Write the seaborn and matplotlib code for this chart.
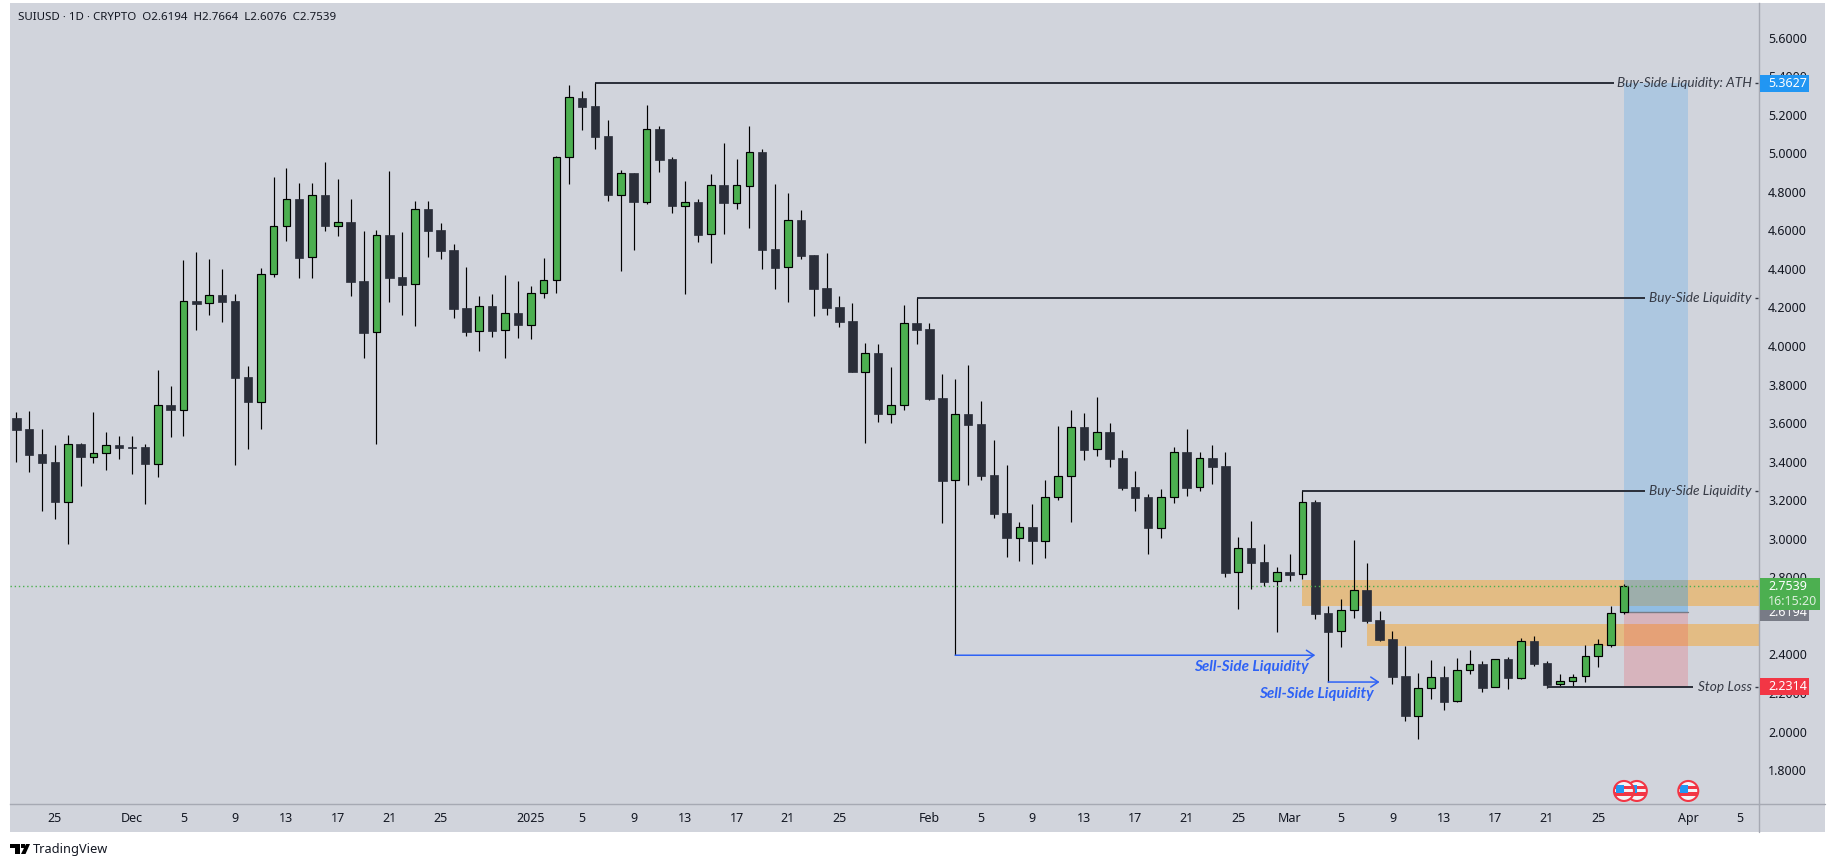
import numpy as np
import pandas as pd
import seaborn as sns
import matplotlib
matplotlib.use("Agg")
import matplotlib.pyplot as plt
from matplotlib.patches import Rectangle, Ellipse, Polygon

# Daily candles SUIUSD, 22 Nov 2024 -> 27 Mar 2025
opens = [3.625, 3.569, 3.440, 3.398, 3.193, 3.492, 3.426, 3.443, 3.486, 3.476,
         3.476, 3.386, 3.694, 3.670, 4.233, 4.221, 4.264, 4.233, 3.839, 3.711,
         4.372, 4.621, 4.762, 4.460, 4.783, 4.624, 4.643, 4.337, 4.071, 4.576,
         4.358, 4.320, 4.711, 4.602, 4.498, 4.197, 4.076, 4.206, 4.081, 4.171,
         4.111, 4.273, 4.341, 4.979, 5.286, 5.245, 5.089, 4.785, 4.897, 4.749,
         5.126, 4.970, 4.728, 4.747, 4.579, 4.835, 4.743, 4.832, 5.006, 4.503,
         4.408, 4.654, 4.472, 4.301, 4.202, 4.130, 3.867, 3.964, 3.649, 3.692,
         4.119, 4.088, 3.730, 3.303, 3.647, 3.595, 3.331, 3.134, 3.006, 3.061,
         2.990, 3.215, 3.324, 3.580, 3.464, 3.554, 3.419, 3.269, 3.217, 3.058,
         3.215, 3.450, 3.267, 3.419, 3.378, 2.826, 2.952, 2.880, 2.779, 2.828,
         2.816, 3.191, 2.615, 2.520, 2.629, 2.734, 2.579, 2.480, 2.288, 2.083,
         2.224, 2.283, 2.157, 2.318, 2.351, 2.230, 2.377, 2.280, 2.470, 2.356,
         2.245, 2.261, 2.287, 2.390, 2.451, 2.6194]
highs = [3.658, 3.663, 3.569, 3.486, 3.538, 3.495, 3.658, 3.554, 3.533, 3.533,
         3.492, 3.875, 3.792, 4.446, 4.488, 4.451, 4.399, 4.270, 3.896, 4.405,
         4.876, 4.923, 4.845, 4.845, 4.954, 4.866, 4.762, 4.596, 4.602, 4.908,
         4.591, 4.752, 4.752, 4.638, 4.529, 4.410, 4.259, 4.270, 4.368, 4.337,
         4.311, 4.456, 4.985, 5.354, 5.323, 5.3627, 5.172, 4.913, 4.897, 5.250,
         5.141, 4.980, 4.856, 4.762, 4.892, 5.053, 4.970, 5.141, 5.022, 4.840,
         4.794, 4.705, 4.472, 4.482, 4.259, 4.223, 4.016, 4.010, 3.891, 4.213,
         4.249, 4.119, 3.855, 3.829, 3.901, 3.715, 3.512, 3.383, 3.087, 3.180,
         3.305, 3.585, 3.668, 3.652, 3.735, 3.601, 3.461, 3.352, 3.232, 3.258,
         3.476, 3.569, 3.450, 3.486, 3.450, 3.009, 3.092, 2.973, 2.854, 2.921,
         3.248, 3.201, 2.651, 2.688, 2.994, 2.874, 2.625, 2.522, 2.444, 2.304,
         2.371, 2.340, 2.382, 2.423, 2.366, 2.377, 2.387, 2.485, 2.496, 2.366,
         2.299, 2.299, 2.449, 2.480, 2.651, 2.7664]
lows = [3.400, 3.348, 3.146, 3.104, 2.975, 3.276, 3.395, 3.359, 3.416, 3.338,
        3.182, 3.322, 3.530, 3.535, 4.085, 4.162, 4.126, 3.384, 3.467, 3.571,
        4.360, 4.546, 4.354, 4.354, 4.598, 4.572, 4.261, 3.939, 3.493, 4.230,
        4.162, 4.105, 4.463, 4.453, 4.147, 4.054, 3.976, 4.048, 3.939, 4.043,
        4.038, 4.251, 4.277, 4.842, 5.122, 5.023, 4.754, 4.391, 4.500, 4.738,
        4.904, 4.692, 4.271, 4.541, 4.432, 4.583, 4.712, 4.614, 4.401, 4.297,
        4.230, 4.453, 4.157, 4.162, 4.100, 3.867, 3.499, 3.608, 3.602, 3.670,
        4.012, 3.722, 3.084, 2.396, 3.279, 3.305, 3.110, 2.907, 2.887, 2.871,
        2.902, 3.201, 3.089, 3.410, 3.431, 3.374, 3.255, 3.146, 2.923, 3.006,
        3.187, 3.224, 3.250, 3.286, 2.804, 2.638, 2.741, 2.757, 2.518, 2.783,
        2.793, 2.586, 2.257, 2.440, 2.591, 2.565, 2.472, 2.249, 2.057, 1.963,
        2.171, 2.114, 2.155, 2.300, 2.207, 2.230, 2.223, 2.275, 2.342, 2.228,
        2.233, 2.230, 2.259, 2.337, 2.440, 2.6076]
closes = [3.566, 3.436, 3.395, 3.193, 3.490, 3.426, 3.443, 3.485, 3.471, 3.471,
          3.390, 3.692, 3.670, 4.232, 4.218, 4.263, 4.228, 3.836, 3.711, 4.372,
          4.621, 4.761, 4.458, 4.781, 4.624, 4.641, 4.334, 4.069, 4.574, 4.354,
          4.318, 4.709, 4.598, 4.494, 4.194, 4.074, 4.206, 4.079, 4.169, 4.111,
          4.273, 4.341, 4.979, 5.290, 5.241, 5.086, 4.785, 4.896, 4.749, 5.124,
          4.966, 4.728, 4.745, 4.577, 4.833, 4.743, 4.833, 5.004, 4.500, 4.406,
          4.652, 4.468, 4.297, 4.199, 4.126, 3.867, 3.962, 3.649, 3.692, 4.118,
          4.085, 3.727, 3.301, 3.646, 3.592, 3.326, 3.130, 3.006, 3.059, 2.990,
          3.215, 3.324, 3.578, 3.462, 3.552, 3.416, 3.263, 3.213, 3.058, 3.215,
          3.448, 3.265, 3.417, 3.374, 2.824, 2.950, 2.876, 2.778, 2.826, 2.812,
          3.189, 2.612, 2.518, 2.629, 2.733, 2.575, 2.477, 2.285, 2.083, 2.224,
          2.281, 2.155, 2.318, 2.349, 2.228, 2.375, 2.280, 2.468, 2.352, 2.243,
          2.261, 2.285, 2.390, 2.453, 2.613, 2.7539]

price_ticks = [1.8, 2.0, 2.2, 2.4, 2.6, 2.8, 3.0, 3.2, 3.4, 3.6, 3.8, 4.0, 4.2, 4.4, 4.6, 4.8, 5.0, 5.2, 5.4, 5.6]
date_ticks = [3, 9, 13, 17, 21, 25, 29, 33, 40, 44, 48, 52, 56, 60, 64, 71, 75, 79, 83, 87, 91, 95, 99, 103, 107, 111, 115, 119, 123, 130, 134]
date_labels = ['25', 'Dec', '5', '9', '13', '17', '21', '25', '2025', '5', '9', '13', '17', '21', '25', 'Feb', '5', '9', '13', '17', '21', '25', 'Mar', '5', '9', '13', '17', '21', '25', 'Apr', '5']

ath = 5.3627
buy_mid = 4.249
buy_low = 3.248
stop = 2.2314
entry = 2.6194
last = 2.7539
zone_high = (2.653, 2.786)
zone_low = (2.446, 2.558)
sell_far = 2.396
sell_near = 2.257

BG = '#D1D4DC'
DARK = '#2A2E39'
GREEN = '#4CAF50'
BLUE = '#2196F3'
RED = '#F23645'
SELL = '#2E62F5'
INK = '#131722'
AXIS = '#A6A9B3'

W, H = 1835, 867

sns.set_theme(style='white')
plt.rcParams['font.family'] = ['Noto Sans', 'DejaVu Sans']
fig = plt.figure(figsize=(W / 100, H / 100), dpi=100, facecolor='white')
ax = fig.add_axes([10 / W, 1 - 804 / H, 1749 / W, 801 / H])
ax.set_facecolor(BG)

# panel behind price and time scales
fig.add_artist(Rectangle((10 / W, 1 - 832 / H), 1815 / W, 829 / H, transform=fig.transFigure,
                         facecolor=BG, edgecolor='none', zorder=-1))

candles = pd.DataFrame({'i': np.arange(len(opens)), 'o': opens, 'h': highs, 'l': lows, 'c': closes})
candles['bottom'] = candles[['o', 'c']].min(axis=1)
candles['size'] = (candles['c'] - candles['o']).abs()
up = candles[candles['c'] > candles['o']]
down = candles[candles['c'] <= candles['o']]

# wicks
wicks = candles.melt(id_vars='i', value_vars=['h', 'l'], value_name='price')
sns.lineplot(data=wicks, x='i', y='price', units='i', estimator=None, sort=False, color='black',
             linewidth=0.85, legend=False, zorder=5, ax=ax, solid_capstyle='butt')

# bodies
sns.barplot(data=up, x='i', y='size', bottom=up['bottom'].to_numpy(), native_scale=True, errorbar=None,
            color=GREEN, saturation=1, width=0.6, edgecolor='black', linewidth=0.85, zorder=6, ax=ax)
sns.barplot(data=down, x='i', y='size', bottom=down['bottom'].to_numpy(), native_scale=True, errorbar=None,
            color=DARK, saturation=1, width=0.66, edgecolor=DARK, linewidth=0.5, zorder=6, ax=ax)

ax.set_xlim(-0.49, 135.5)
ax.set_ylim(1.6244, 5.779)
ax.set_xlabel('')
ax.set_ylabel('')

# zones
ax.axhspan(zone_high[0], zone_high[1], xmin=(100 + 0.49) / 135.99, color='#FF9800', alpha=0.4, lw=0, zorder=1)
ax.axhspan(zone_low[0], zone_low[1], xmin=(105 + 0.49) / 135.99, color='#FF9800', alpha=0.4, lw=0, zorder=1)

# long position box
ax.add_patch(Rectangle((125, entry), 5, ath - entry, facecolor=BLUE, alpha=0.2, lw=0, zorder=2))
ax.add_patch(Rectangle((125, entry), 5, zone_high[1] - entry, facecolor=BLUE, alpha=0.2, lw=0, zorder=2))
ax.add_patch(Rectangle((125, stop), 5, entry - stop, facecolor=RED, alpha=0.2, lw=0, zorder=2))
ax.plot([125, 130], [entry, entry], color='#787B86', lw=1.0, zorder=3)

# current price
ax.axhline(last, color=GREEN, lw=1.0, ls=(0, (1, 2)), zorder=7)

# liquidity levels
ax.plot([45, 124.2], [ath, ath], color=DARK, lw=1.4, zorder=4, solid_capstyle='butt')
ax.plot([70, 126.6], [buy_mid, buy_mid], color=DARK, lw=1.4, zorder=4, solid_capstyle='butt')
ax.plot([100, 126.6], [buy_low, buy_low], color=DARK, lw=1.4, zorder=4, solid_capstyle='butt')
ax.plot([119, 130.4], [stop, stop], color=DARK, lw=1.4, zorder=7, solid_capstyle='butt')
for level, label in [(ath, 'Buy-Side Liquidity: ATH'), (buy_mid, 'Buy-Side Liquidity'),
                     (buy_low, 'Buy-Side Liquidity'), (stop, 'Stop Loss')]:
    ax.text(134.95, level, label, ha='right', va='center', fontsize=9.8, style='italic',
            family=['Lato', 'DejaVu Sans'], color='#363A45', zorder=8)
    ax.plot([135.2, 135.42], [level, level], color='#363A45', lw=1.0, zorder=8, solid_capstyle='butt')

# sell side arrows
arrow = dict(arrowstyle='->,head_length=0.45,head_width=0.3', color=SELL, lw=1.1, shrinkA=0, shrinkB=0)
ax.annotate('', xy=(101, sell_far), xytext=(73, sell_far), arrowprops=arrow, zorder=8)
ax.annotate('', xy=(106, sell_near), xytext=(102, sell_near), arrowprops=arrow, zorder=8)
ax.text(100.5, 2.335, 'Sell-Side Liquidity', ha='right', va='center', fontsize=11, style='italic', weight='bold',
        family=['Lato', 'DejaVu Sans'], color=SELL, zorder=8)
ax.text(105.5, 2.195, 'Sell-Side Liquidity', ha='right', va='center', fontsize=11, style='italic', weight='bold',
        family=['Lato', 'DejaVu Sans'], color=SELL, zorder=8)

# event flags at the bottom
flag_y = 1.692
px_x, px_y = 1 / 12.86, 1 / 192.8
for fx in [126, 125, 130]:
    back = Rectangle((fx - 10 * px_x, flag_y - 10 * px_y), 20 * px_x, 20 * px_y, facecolor='#F4F4F6', lw=0, zorder=9)
    ax.add_patch(back)
    clip = Ellipse((fx, flag_y), 20 * px_x, 20 * px_y, transform=ax.transData)
    back.set_clip_path(clip)
    stripes = [(-10, -3, 20, 4, RED), (-10, 4, 20, 3, RED), (-8, 0, 8, 8, BLUE)]
    for sx, sy, sw, sh, col in stripes:
        r = Rectangle((fx + sx * px_x, flag_y + (sy - 2) * px_y), sw * px_x, sh * px_y, facecolor=col, lw=0, zorder=9)
        ax.add_patch(r)
        r.set_clip_path(clip)
    ax.add_patch(Ellipse((fx, flag_y), 20 * px_x, 20 * px_y, facecolor='none', edgecolor=RED, lw=1.5, zorder=9))

# scales
ax.set_xticks(date_ticks)
ax.set_xticklabels(date_labels)
ax.yaxis.tick_right()
ax.set_yticks(price_ticks)
ax.set_yticklabels(['%.4f' % p for p in price_ticks])
ax.tick_params(axis='x', length=0, pad=6, labelsize=9, labelcolor=INK)
ax.tick_params(axis='y', length=0, pad=6.5, labelsize=9, labelcolor=INK)
ax.get_xticklabels()[8].set_fontweight('bold')
for side in ['top', 'left']:
    ax.spines[side].set_visible(False)
for side in ['right', 'bottom']:
    ax.spines[side].set_color(AXIS)
    ax.spines[side].set_linewidth(1.0)
fig.add_artist(plt.Line2D([1759 / W, 1825 / W], [1 - 804 / H, 1 - 804 / H], color=AXIS, lw=1.0))
fig.add_artist(plt.Line2D([1759 / W, 1759 / W], [1 - 804 / H, 1 - 832 / H], color=AXIS, lw=1.0))

# price badges
trans = ax.get_yaxis_transform()
bx = 1.0003
def badge(price, width, col, text, z):
    ax.add_patch(Rectangle((bx, price - 0.044), width / 1749, 0.088, transform=trans, facecolor=col, lw=0,
                           clip_on=False, zorder=z))
    ax.text(1 + 9 / 1749, price, text, transform=trans, color='white', fontsize=9, va='center', ha='left',
            clip_on=False, zorder=z + 0.1)

badge(ath, 49, BLUE, '%.4f' % ath, 10)
badge(stop, 49, RED, '%.4f' % stop, 10)
badge(entry, 49, '#787B86', '%.4f' % entry, 10)
ax.add_patch(Rectangle((bx, last - 0.122), 60 / 1749, 0.164, transform=trans, facecolor=GREEN, lw=0,
                       clip_on=False, zorder=11))
ax.text(1 + 9 / 1749, last - 0.003, '%.4f' % last, transform=trans, color='white', fontsize=9, va='center',
        clip_on=False, zorder=12)
ax.text(1 + 9 / 1749, last - 0.08, '16:15:20', transform=trans, color='#DDEFDD', fontsize=9, va='center',
        clip_on=False, zorder=12)

# header
fig.text(18 / W, 1 - 18 / H, 'SUIUSD · 1D · CRYPTO  O2.6194  H2.7664  L2.6076  C2.7539', fontsize=8.3,
         color=INK, va='center', ha='left')

# logo
fig.add_artist(Polygon([(10 / W, 1 - 844 / H), (20 / W, 1 - 844 / H), (20 / W, 1 - 854 / H), (15 / W, 1 - 854 / H),
                        (15 / W, 1 - 848 / H), (10 / W, 1 - 848 / H)], closed=True, facecolor='black', lw=0,
                       transform=fig.transFigure))
fig.add_artist(Polygon([(26 / W, 1 - 844 / H), (30 / W, 1 - 844 / H), (25.5 / W, 1 - 854 / H), (21 / W, 1 - 854 / H)],
                       closed=True, facecolor='black', lw=0, transform=fig.transFigure))
fig.add_artist(Rectangle((21 / W, 1 - 848 / H), 3.5 / W, 4 / H, facecolor='black', lw=0, transform=fig.transFigure))
fig.text(33 / W, 1 - 849.5 / H, 'TradingView', fontsize=9.2, color=INK, va='center', ha='left')

fig.savefig('out.png', dpi=100, facecolor='white')
